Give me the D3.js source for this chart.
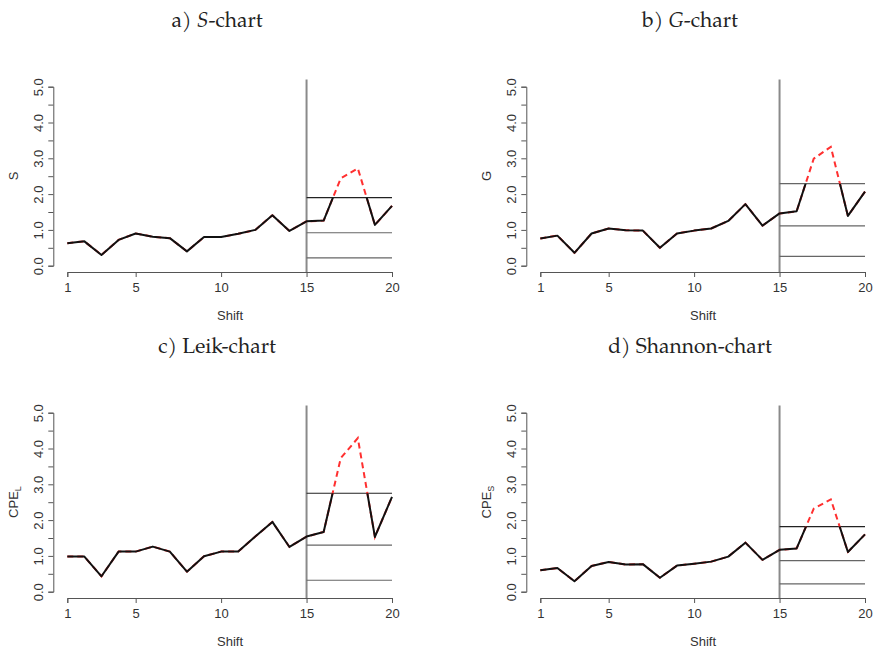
<!DOCTYPE html>
<html>
<head>
<meta charset="utf-8">
<script src="https://cdn.jsdelivr.net/npm/d3@7"></script>
<style>
	body { margin: 0; background: #fff; }
	.title { font-family: "Palatino Linotype", "TeX Gyre Pagella", "Liberation Serif", serif; font-size: 21px; fill: #222; }
	.tick text, .lab { font-family: "Liberation Sans", Arial, sans-serif; fill: #333; }
</style>
</head>
<body>
<div id="chart"></div>
<script>
// shifts 1..20
var shifts = d3.range(1, 21);

// chart statistics
var sVals = [0.63, 0.68, 0.30, 0.72, 0.90, 0.81, 0.77, 0.40, 0.80, 0.80,
	0.89, 1.00, 1.41, 0.97, 1.24, 1.26, 2.44, 2.72, 1.14, 1.67];
var gVals = [0.76, 0.84, 0.36, 0.90, 1.04, 0.99, 0.98, 0.50, 0.90, 0.98,
	1.04, 1.25, 1.72, 1.12, 1.46, 1.52, 2.99, 3.32, 1.39, 2.07];
var leikVals = [0.98, 0.98, 0.43, 1.12, 1.12, 1.26, 1.12, 0.56, 0.99, 1.12,
	1.12, 1.54, 1.95, 1.25, 1.54, 1.67, 3.73, 4.29, 1.53, 2.65];
var shannonVals = [0.60, 0.66, 0.29, 0.72, 0.83, 0.76, 0.77, 0.39, 0.73, 0.78,
	0.84, 0.98, 1.37, 0.89, 1.17, 1.21, 2.32, 2.58, 1.11, 1.60];

// control limits [LCL, CL, UCL]
var sLimits = [0.22, 0.92, 1.90];
var gLimits = [0.26, 1.11, 2.29];
var leikLimits = [0.32, 1.30, 2.75];
var shannonLimits = [0.22, 0.87, 1.82];

var xTicks = [1, 5, 10, 15, 20];
var yTicks = d3.range(0, 5.01, 0.5);
var phaseSplit = 15;

var panels = [
	{title: ["a) ", "S", "-chart"], ylab: "S", sub: null, vals: sVals, lim: sLimits, dx: 0, dy: 0},
	{title: ["b) ", "G", "-chart"], ylab: "G", sub: null, vals: gVals, lim: gLimits, dx: 473, dy: 0},
	{title: ["c) Leik-chart", "", ""], ylab: "CPE", sub: "L", vals: leikVals, lim: leikLimits, dx: 0, dy: 326},
	{title: ["d) Shannon-chart", "", ""], ylab: "CPE", sub: "S", vals: shannonVals, lim: shannonLimits, dx: 473, dy: 326}
];

var svg = d3.select("#chart").append("svg")
	.attr("width", 873)
	.attr("height", 648);

var x = d3.scaleLinear().domain([1, 20]).range([67.3, 392]);
var y = d3.scaleLinear().domain([0, 5]).range([265.7, 86.7]);

var line = d3.line()
	.x(function(d, i) { return x(shifts[i]); })
	.y(function(d) { return y(d); });

panels.forEach(function(p, k) {
	var g = svg.append("g").attr("transform", "translate(" + p.dx + "," + p.dy + ")");

	// title
	var t = g.append("text").attr("class", "title")
		.attr("x", 217).attr("y", 26.5)
		.attr("text-anchor", "middle");
	t.append("tspan").text(p.title[0]);
	if (p.title[1]) t.append("tspan").attr("font-style", "italic").text(p.title[1]);
	if (p.title[2]) t.append("tspan").text(p.title[2]);

	// y axis
	var yAxis = d3.axisLeft(y).tickValues(yTicks).tickSize(5).tickPadding(10)
		.tickFormat(function(d) { return d % 1 === 0 ? d3.format(".1f")(d) : ""; });
	var ya = g.append("g").attr("transform", "translate(53.3,0)").call(yAxis);
	ya.selectAll("text")
		.attr("transform", "rotate(-90)")
		.attr("x", 0).attr("dx", 0)
		.attr("y", -14)
		.attr("text-anchor", "middle")
		.attr("font-size", 13);

	// x axis
	var xAxis = d3.axisBottom(x).tickValues(xTicks).tickSize(5).tickPadding(6)
		.tickFormat(d3.format("d"));
	var xa = g.append("g").attr("transform", "translate(0,272)").call(xAxis);
	xa.selectAll("text").attr("font-size", 13);

	[ya, xa].forEach(function(a) {
		a.select(".domain").attr("stroke", "#555");
		a.selectAll(".tick line").attr("stroke", "#555");
	});

	// axis titles
	g.append("text").attr("class", "lab")
		.attr("x", 230).attr("y", 320)
		.attr("text-anchor", "middle")
		.attr("font-size", 13)
		.text("Shift");
	var yl = g.append("text").attr("class", "lab")
		.attr("transform", "translate(18,176) rotate(-90)")
		.attr("text-anchor", "middle")
		.attr("font-size", 13)
		.text(p.ylab);
	if (p.sub) yl.append("tspan").attr("font-size", 9).attr("dy", 3).text(p.sub);

	// phase II separator
	g.append("line")
		.attr("x1", x(phaseSplit)).attr("x2", x(phaseSplit))
		.attr("y1", 79.5).attr("y2", 272)
		.attr("stroke", "#8a8a8a").attr("stroke-width", 2);

	// control limits
	g.selectAll(".lim").data(p.lim).enter().append("line")
		.attr("class", "lim")
		.attr("x1", x(phaseSplit)).attr("x2", x(20))
		.attr("y1", function(d) { return y(d); })
		.attr("y2", function(d) { return y(d); })
		.attr("stroke", function(d, i) { return i === 2 && k !== 1 ? "#222" : "#666"; })
		.attr("stroke-width", 1.2);

	// red dashed series (visible above UCL)
	g.append("path").datum(p.vals)
		.attr("d", line)
		.attr("fill", "none")
		.attr("stroke", "#ff3030")
		.attr("stroke-width", 2)
		.attr("stroke-dasharray", "6,4");

	// black series clipped at UCL
	var cid = "clip" + k;
	g.append("clipPath").attr("id", cid)
		.append("rect")
		.attr("x", 0).attr("width", 440)
		.attr("y", y(p.lim[2])).attr("height", 300 - y(p.lim[2]));
	g.append("path").datum(p.vals)
		.attr("d", line)
		.attr("clip-path", "url(#" + cid + ")")
		.attr("fill", "none")
		.attr("stroke", "#111")
		.attr("stroke-width", 2)
		.attr("stroke-linejoin", "round");
});
</script>
</body>
</html>
